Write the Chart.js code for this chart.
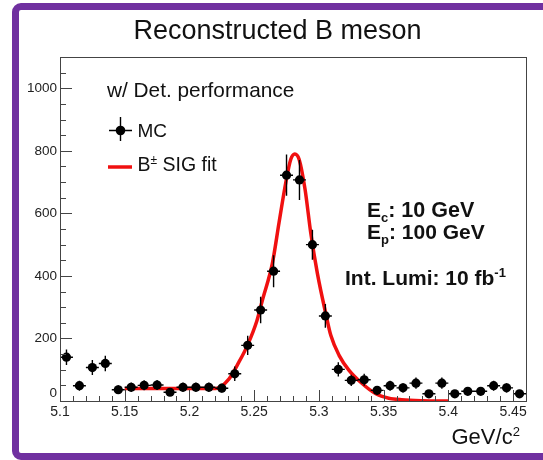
<!DOCTYPE html>
<html><head><meta charset="utf-8">
<script src="https://cdn.jsdelivr.net/npm/chart.js@4"></script>
<style>
html,body{margin:0;padding:0;background:#fff;overflow:hidden;}
#wrap{position:relative;width:543px;height:460px;overflow:hidden;}
#frame{position:absolute;left:12px;top:3px;width:620px;height:457px;box-sizing:border-box;border:7px solid #7030A0;border-radius:9px;}
canvas{position:absolute;left:0;top:0;}
</style></head><body>
<div id="wrap"><div id="frame"></div><canvas id="c" width="543" height="460"></canvas></div>
<script>
// Histogram bin centres (GeV/c^2), MC counts and their error bars
const binCenters = [5.105,5.115,5.125,5.135,5.145,5.155,5.165,5.175,5.185,5.195,5.205,5.215,5.225,5.235,5.245,5.255,5.265,5.275,5.285,5.295,5.305,5.315,5.325,5.335,5.345,5.355,5.365,5.375,5.385,5.395,5.405,5.415,5.425,5.435,5.445,5.455];
const counts = [140,49,107,120,36,44,50,51,28,44,44,44,41,87,178,291,415,722,707,500,272,101,66,68,34,49,42,57,23,57,23,31,31,49,42,23];
const errors = [25,16,24,25,14,15,16,16,12,15,15,15,14,23,31,42,51,66,64,48,38,23,18,19,13,16,15,18,11,18,11,13,13,16,15,11];
const binHalfWidth = 0.005;
// B± SIG fit curve
const fitX = [5.15,5.16,5.17,5.18,5.19,5.20,5.21,5.2203,5.2306,5.2383,5.2448,5.2520,5.2564,5.2641,5.2692,5.2744,5.2783,5.2814,5.2847,5.2893,5.2937,5.2988,5.3053,5.3092,5.3156,5.3233,5.3336,5.344,5.354,5.364,5.38,5.40];
const fitY = [40,40,40,40,40,40,40,40,71,125,178,255,323,441,570,698,773,790,773,677,538,409,280,210,146,98,55,23,9,4,1,0];
// Axis ticks
const xTickValues = [5.1,5.15,5.2,5.25,5.3,5.35,5.4,5.45];
const xTickLabels = ['5.1','5.15','5.2','5.25','5.3','5.35','5.4','5.45'];
const yTickValues = [0,200,400,600,800,1000];
const yTickLabels = ['0','200','400','600','800','1000'];
const xMinorStep = 0.01, yMinorStep = 50;
const xRange = [5.1, 5.46], yRange = [0, 1100];

const FONT = '"Liberation Sans", Arial, Helvetica, sans-serif';

function richText(ctx, x, y, parts){
  let cx = x;
  for (const p of parts){
    ctx.font = (p.bold ? 'bold ' : '') + p.size + 'px ' + FONT;
    ctx.fillText(p.t, cx, y + (p.dy || 0));
    cx += ctx.measureText(p.t).width;
  }
}

const decor = {
  id: 'decor',
  afterDatasetDraw(chart, args){
    if (args.index !== 1) return;
    const {ctx, scales:{x, y}} = chart;
    ctx.save();
    ctx.strokeStyle = '#000';
    ctx.lineWidth = 1.4;
    ctx.beginPath();
    for (let i = 0; i < binCenters.length; i++){
      const px = x.getPixelForValue(binCenters[i]);
      const py = y.getPixelForValue(counts[i]);
      ctx.moveTo(px, y.getPixelForValue(counts[i] - errors[i]));
      ctx.lineTo(px, y.getPixelForValue(counts[i] + errors[i]));
      ctx.moveTo(x.getPixelForValue(binCenters[i] - binHalfWidth), py);
      ctx.lineTo(x.getPixelForValue(binCenters[i] + binHalfWidth), py);
    }
    ctx.stroke();
    ctx.restore();
  },
  afterDraw(chart){
    const {ctx, chartArea:a, scales:{x, y}} = chart;
    ctx.save();
    // frame
    ctx.strokeStyle = '#444';
    ctx.lineWidth = 1;
    ctx.strokeRect(Math.round(a.left)+0.5, Math.round(a.top)+0.5, Math.round(a.right-a.left), Math.round(a.bottom-a.top));
    // ticks (inside)
    ctx.beginPath();
    for (let v = yRange[0]; v <= yRange[1] + 1e-9; v += yMinorStep){
      const py = Math.round(y.getPixelForValue(v)) + 0.5;
      const major = yTickValues.includes(v);
      ctx.moveTo(a.left, py); ctx.lineTo(a.left + (major ? 12 : 6), py);
    }
    for (let k = 0; ; k++){
      const v = xRange[0] + k * xMinorStep;
      if (v > xRange[1] + 1e-9) break;
      const px = Math.round(x.getPixelForValue(v)) + 0.5;
      const major = xTickValues.some(t => Math.abs(t - v) < 1e-6);
      ctx.moveTo(px, a.bottom); ctx.lineTo(px, a.bottom - (major ? 11 : 5));
    }
    ctx.stroke();

    ctx.fillStyle = '#111';
    ctx.textBaseline = 'alphabetic';
    // title
    ctx.textAlign = 'center';
    ctx.font = '27px ' + FONT;
    ctx.fillText('Reconstructed B meson', 277.5, 39);
    ctx.textAlign = 'left';
    // axis title
    richText(ctx, 451.5, 444, [{t:'GeV/c', size:22}, {t:'2', size:13, dy:-8}]);
    // legend
    ctx.font = '20.8px ' + FONT;
    ctx.fillText('w/ Det. performance', 107, 97);
    ctx.strokeStyle = '#000'; ctx.lineWidth = 1.4;
    ctx.beginPath();
    ctx.moveTo(109, 130.5); ctx.lineTo(132, 130.5);
    ctx.moveTo(120.5, 117); ctx.lineTo(120.5, 141);
    ctx.stroke();
    ctx.beginPath(); ctx.arc(120.5, 130.5, 4.8, 0, Math.PI*2); ctx.fillStyle = '#000'; ctx.fill();
    ctx.fillStyle = '#111';
    ctx.font = '19px ' + FONT;
    ctx.fillText('MC', 137.5, 137);
    ctx.strokeStyle = '#f01010'; ctx.lineWidth = 3.5;
    ctx.beginPath(); ctx.moveTo(108, 167); ctx.lineTo(132, 167); ctx.stroke();
    richText(ctx, 137.5, 170.5, [{t:'B', size:19.5}, {t:'±', size:12, dy:-7}, {t:' SIG fit', size:19.5}]);
    // annotations
    richText(ctx, 367, 217, [{t:'E', size:21, bold:true}, {t:'c', size:13, bold:true, dy:5}, {t:': 10 GeV', size:21.5, bold:true}]);
    richText(ctx, 367, 239, [{t:'E', size:21, bold:true}, {t:'p', size:13, bold:true, dy:5}, {t:': 100 GeV', size:21, bold:true}]);
    richText(ctx, 345, 284.5, [{t:'Int. Lumi: 10 fb', size:21, bold:true}, {t:'-1', size:13, bold:true, dy:-8}]);
    ctx.restore();
  }
};

const points = binCenters.map((c, i) => ({x: c, y: counts[i]}));
const fitPts = fitX.map((c, i) => ({x: c, y: fitY[i]}));

new Chart(document.getElementById('c'), {
  type: 'scatter',
  data: {
    datasets: [
      { label: 'MC', data: points, showLine: false, pointRadius: 4.6, pointHoverRadius: 4.6,
        backgroundColor: '#000', borderColor: '#000', borderWidth: 0 },
      { label: 'B± SIG fit', data: fitPts, showLine: true, pointRadius: 0, borderColor: '#f01010',
        borderWidth: 3.5, cubicInterpolationMode: 'monotone', fill: false }
    ]
  },
  options: {
    responsive: false,
    animation: false,
    devicePixelRatio: 1,
    layout: { padding: { left: 0, top: 57, right: 17, bottom: 0 } },
    plugins: { legend: { display: false }, tooltip: { enabled: false }, title: { display: false } },
    scales: {
      x: {
        type: 'linear', min: xRange[0], max: xRange[1],
        grid: { display: false, drawTicks: false }, border: { display: false },
        afterFit(s){ s.height = 59; },
        afterBuildTicks(s){ s.ticks = xTickValues.map(v => ({value: v})); },
        ticks: { padding: 3, color: '#222', font: { family: FONT, size: 14 }, maxRotation: 0, autoSkip: false,
          callback: (v, i) => xTickLabels[i] }
      },
      y: {
        type: 'linear', min: yRange[0], max: yRange[1],
        grid: { display: false, drawTicks: false }, border: { display: false },
        afterFit(s){ s.width = 60; },
        afterBuildTicks(s){ s.ticks = yTickValues.map(v => ({value: v})); },
        ticks: { padding: 3, color: '#222', font: { family: FONT, size: 13.5 }, autoSkip: false,
          callback: (v, i) => (yTickValues[i] === 0 ? [yTickLabels[i], ''] : yTickLabels[i]) }
      }
    }
  },
  plugins: [decor]
});
</script>
</body></html>
